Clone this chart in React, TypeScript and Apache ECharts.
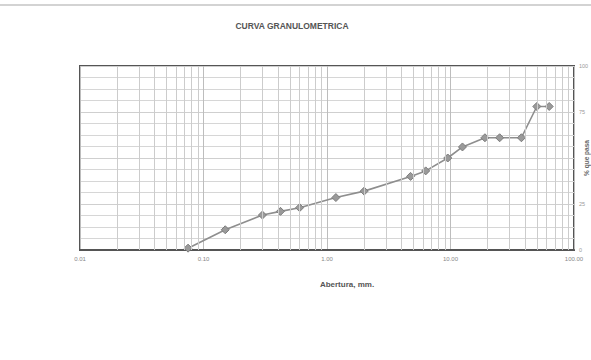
import React, { useEffect, useRef } from "react";
import * as echarts from "echarts";

const openings = [0.075, 0.15, 0.3, 0.42, 0.6, 1.18, 2, 4.75, 6.3, 9.5, 12.5, 19, 25, 37.5, 50, 63];
const passing = [1, 11, 19, 21, 23, 28.5, 32, 40, 43, 50, 56, 61, 61, 61, 78, 78];
const decades = [0.01, 0.1, 1, 10];
const multipliers = [2, 3, 4, 5, 6, 7, 8, 9];
const yTicks = [0, 25, 50, 75, 100];
const hiddenYLabels = [50];

const titleText = "CURVA GRANULOMETRICA";
const xName = "Abertura, mm.";
const yName = "% que pasa";

export default function App() {
  const ref = useRef<HTMLDivElement>(null);
  useEffect(() => {
    document.body.style.margin = "0";
    const chart = echarts.init(ref.current!, null, { renderer: "svg" });
    const minorLines = [];
    decades.forEach((d) => multipliers.forEach((m) => minorLines.push({ xAxis: +(d * m).toPrecision(3) })));
    const font = "'Liberation Sans', Arial, sans-serif";
    chart.setOption({
      animation: false,
      backgroundColor: "#ffffff",
      title: {
        text: titleText,
        left: 287,
        top: 16,
        textAlign: "center",
        textStyle: { fontSize: 8.5, fontWeight: "bold", color: "#555", fontFamily: font },
      },
      graphic: [
        { type: "line", shape: { x1: 0, y1: 5, x2: 591, y2: 5 }, style: { stroke: "#c4c4c4", lineWidth: 1.5 } },
      ],
      grid: {
        left: 80,
        right: 17,
        top: 66,
        bottom: 110,
        containLabel: false,
        outerBoundsMode: "none",
        show: true,
        borderColor: "#555",
        borderWidth: 2,
        backgroundColor: "#fff",
      },
      xAxis: {
        type: "log",
        logBase: 10,
        min: decades[0],
        max: 100,
        name: xName,
        nameLocation: "middle",
        nameGap: 30,
        nameTextStyle: { fontSize: 8, fontWeight: "bold", color: "#555", fontFamily: font, padding: [0, 0, 0, 40] },
        axisLine: { show: true, lineStyle: { color: "#555", width: 2 } },
        axisTick: { show: false },
        axisLabel: {
          fontSize: 6,
          color: "#888",
          fontFamily: font,
          margin: 6,
          formatter: (v: number) => v.toFixed(2),
        },
        splitLine: { show: true, lineStyle: { color: "#bdbdbd", width: 1 } },
        minorTick: { show: false },
      },
      yAxis: {
        type: "value",
        position: "right",
        min: 0,
        max: 100,
        interval: 25,
        name: yName,
        nameLocation: "middle",
        nameGap: 9,
        nameRotate: 90,
        nameMoveOverlap: false,
        nameTextStyle: { fontSize: 6.5, fontWeight: "bold", color: "#666", fontFamily: font },
        axisLine: { show: false },
        axisTick: { show: false },
        axisLabel: {
          fontSize: 5.5,
          color: "#999",
          fontFamily: font,
          margin: 5,
          formatter: (v: number) => (hiddenYLabels.includes(v) || !yTicks.includes(v) ? "" : String(v)),
        },
        splitLine: { show: true, lineStyle: { color: "#cfcfcf", width: 1 } },
        minorTick: { show: false, splitNumber: 4 },
        minorSplitLine: { show: true, lineStyle: { color: "#d6d6d6", width: 1 } },
      },
      series: [
        {
          type: "line",
          data: [],
          z: 1,
          silent: true,
          markLine: {
            silent: true,
            symbol: ["none", "none"],
            label: { show: false },
            lineStyle: { color: "#cccccc", width: 1, type: "solid" },
            emphasis: { disabled: true },
            data: minorLines,
          },
        },
        {
          type: "line",
          z: 3,
          data: openings.map((o, i) => [o, passing[i]]),
          symbol: "diamond",
          symbolSize: 8,
          lineStyle: { color: "#8e8e8e", width: 1.6 },
          itemStyle: { color: "#9a9a9a", borderColor: "#7c7c7c", borderWidth: 1 },
        },
      ],
    });
    return () => chart.dispose();
  }, []);
  return <div ref={ref} style={{ width: 591, height: 360 }} />;
}
